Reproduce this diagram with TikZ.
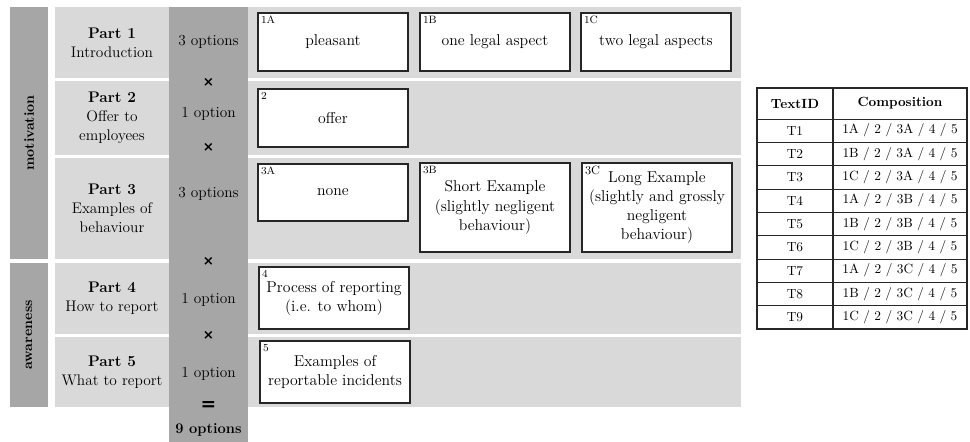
\documentclass[tikz,border=0pt]{standalone}
\usepackage{amsmath}
\usepackage{fontspec}
\usepackage{tikz}
\newfontfamily\symfont{DejaVu Sans}

\definecolor{barGray}{RGB}{166,166,166}
\definecolor{bandGray}{RGB}{217,217,217}

\begin{document}
\begin{tikzpicture}[x=0.75pt,y=0.75pt,yscale=-1,xscale=1,
    optbox/.style={draw=black!85,fill=white,line width=0.8pt,minimum width=112.5pt,align=center,inner sep=2pt,font=\fontsize{11.8}{14.3}\selectfont},
    tag/.style={anchor=north west,inner sep=2.5pt,font=\fontsize{8}{8}\selectfont},
    parttext/.style={align=center,inner sep=0.75pt,font=\fontsize{11.5}{14.3}\selectfont},
    timessign/.style={inner sep=0.75pt,font=\symfont\bfseries\fontsize{10}{12}\selectfont},
    tblrule/.style={draw=black!85,line width=0.4pt},
    tbltext/.style={inner sep=0.75pt,font=\fontsize{10}{12}\selectfont}
  ]
    \path[use as bounding box] (0,0) rectangle (970,442);

    %Shape: Rectangle [group bars]
    \fill[barGray] (10,7) rectangle (48,259);
    \fill[barGray] (10,263) rectangle (48,407);

    %Shape: Rectangle [row bands]
    \fill[bandGray] (55,7) rectangle (741,78);
    \fill[bandGray] (55,81) rectangle (741,155);
    \fill[bandGray] (55,158) rectangle (741,259);
    \fill[bandGray] (55,263) rectangle (741,334);
    \fill[bandGray] (55,337) rectangle (741,407);

    %Shape: Rectangle [options column]
    \fill[barGray] (169,7) rectangle (248,442);

    % Text Node
    \node[rotate=90,inner sep=0.75pt,font=\fontsize{10.5}{12}\selectfont\bfseries] (motiv) at (29,133) {motivation};
    % Text Node
    \node[rotate=90,inner sep=0.75pt,font=\fontsize{10.5}{12}\selectfont\bfseries] (aware) at (29,335) {awareness};

    % Text Node
    \node[parttext] (part1) at (112,42.5) {\textbf{Part 1}\\Introduction};
    % Text Node
    \node[parttext] (part2) at (112,118) {\textbf{Part 2}\\Offer to\\employees};
    % Text Node
    \node[parttext] (part3) at (112,208.5) {\textbf{Part 3}\\Examples of\\behaviour};
    % Text Node
    \node[parttext] (part4) at (112,298) {\textbf{Part 4}\\How to report};
    % Text Node
    \node[parttext] (part5) at (112,372) {\textbf{Part 5}\\What to report};

    % Text Node
    \node[parttext] (opt1) at (208.5,42) {3 options};
    \node[timessign] (x1) at (208.5,82) {×};
    \node[parttext] (opt2) at (208.5,114) {1 option};
    \node[timessign] (x2) at (208.5,147) {×};
    \node[parttext] (opt3) at (208.5,194) {3 options};
    \node[timessign] (x3) at (208.5,261) {×};
    \node[parttext] (opt4) at (208.5,300) {1 option};
    \node[timessign] (x4) at (208.5,335) {×};
    \node[parttext] (opt5) at (208.5,374) {1 option};
    \node[inner sep=0.75pt,font=\symfont\bfseries\fontsize{14}{16}\selectfont] (eqsign) at (208.5,406) {=};
    \node[parttext,font=\fontsize{11}{13}\selectfont\bfseries] (total) at (208.5,430) {9 options};

    %Shape: Boxes [part 1]
    \node[optbox,minimum height=43.5pt] (b1A) at (333,42) {pleasant};
    \node[tag] (t1A) at (b1A.north west) {1A};
    \node[optbox,minimum height=43.5pt] (b1B) at (495,42) {one legal aspect};
    \node[tag] (t1B) at (b1B.north west) {1B};
    \node[optbox,minimum height=43.5pt] (b1C) at (656,42) {two legal aspects};
    \node[tag] (t1C) at (b1C.north west) {1C};

    %Shape: Boxes [part 2]
    \node[optbox,minimum height=43.5pt] (b2) at (333,118) {offer};
    \node[tag] (t2) at (b2.north west) {2};

    %Shape: Boxes [part 3]
    \node[optbox,minimum height=42.75pt] (b3A) at (333,192.5) {none};
    \node[tag] (t3A) at (b3A.north west) {3A};
    \node[optbox,minimum height=66.75pt] (b3B) at (495,207.5) {Short Example\\(slightly negligent\\behaviour)};
    \node[tag] (t3B) at (b3B.north west) {3B};
    \node[optbox,minimum height=66.75pt] (b3C) at (657,207.5) {Long Example\\(slightly and grossly\\negligent\\behaviour)};
    \node[tag,font=\fontsize{9}{9}\selectfont] (t3C) at (b3C.north west) {3C};

    %Shape: Boxes [part 4 and 5]
    \node[optbox,minimum height=46.5pt] (b4) at (334,298) {Process of reporting\\(i.e. to whom)};
    \node[tag] (t4) at (b4.north west) {4};
    \node[optbox,minimum height=46.5pt] (b5) at (335,372) {Examples of\\reportable incidents};
    \node[tag] (t5) at (b5.north west) {5};

    %Shape: Table
    \draw[tblrule] (757,119) -- (967,119);
    \foreach \k in {1,...,8}
        \draw[tblrule] (757,119+\k*23.33) -- (967,119+\k*23.33);
    \draw[draw=black!85,line width=0.9pt] (757,88) rectangle (967,329);
    \draw[draw=black!85,line width=0.9pt] (833,88) -- (833,329);

    % Text Node
    \node[tbltext,font=\fontsize{10}{12}\selectfont\bfseries] (hid) at (795,103.5) {TextID};
    \node[tbltext,font=\fontsize{10}{12}\selectfont\bfseries] (hcomp) at (900,103.5) {Composition};
    \foreach \i/\a/\b in {1/A/A,2/B/A,3/C/A,4/A/B,5/B/B,6/C/B,7/A/C,8/B/C,9/C/C}{
        \node[tbltext] (id\i) at (795,119+\i*23.33-11.67) {T\i};
        \node[tbltext] (comp\i) at (900,119+\i*23.33-11.67) {1\a{} / 2 / 3\b{} / 4 / 5};
    }

\end{tikzpicture}
\end{document}
